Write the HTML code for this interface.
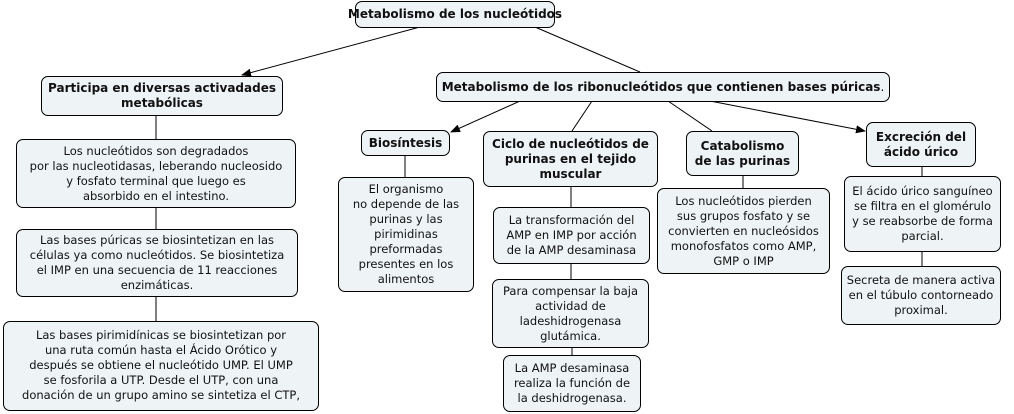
<!DOCTYPE html><html><head><meta charset="utf-8"><style>
body{margin:0;width:1014px;height:414px;background:#fff;position:relative;overflow:hidden;font-family:"DejaVu Sans","Liberation Sans",sans-serif;}
.b{position:absolute;box-sizing:border-box;border:1px solid #000;border-radius:7px;background:#eef3f5;font-size:11.5px;line-height:15px;text-align:center;display:flex;align-items:center;justify-content:center;color:#111;white-space:nowrap}
.h{font-weight:bold;font-size:12px}
svg{position:absolute;left:0;top:0}
</style></head><body>
<svg width="1014" height="414"><defs><marker id="a" markerWidth="10" markerHeight="8" refX="9" refY="4" orient="auto" markerUnits="userSpaceOnUse"><path d="M0,0L10,4L0,8z" fill="#000"/></marker></defs>
<g stroke="#000" stroke-width="1" fill="none">
<line x1="420" y1="27" x2="242" y2="75" marker-end="url(#a)"/>
<line x1="535" y1="27" x2="640" y2="72"/>
<line x1="520" y1="101" x2="451" y2="132" marker-end="url(#a)"/>
<line x1="592" y1="101" x2="572" y2="131"/>
<line x1="668" y1="101" x2="712" y2="131"/>
<line x1="710" y1="101" x2="865" y2="131" marker-end="url(#a)"/>
<line x1="156" y1="115" x2="156" y2="139"/>
<line x1="156" y1="207" x2="156" y2="229"/>
<line x1="156" y1="296" x2="156" y2="321"/>
<line x1="405" y1="155" x2="405" y2="177"/>
<line x1="571" y1="186" x2="571" y2="207"/>
<line x1="571" y1="263" x2="571" y2="279"/>
<line x1="572" y1="347" x2="572" y2="355"/>
<line x1="743" y1="175" x2="743" y2="188"/>
<line x1="922" y1="166" x2="922" y2="176"/>
<line x1="922" y1="251" x2="922" y2="266"/>
</g></svg>
<div class="b h" style="left:355px;top:1px;width:200px;height:27px">Metabolismo de los nucleótidos</div>
<div class="b h" style="left:41px;top:76px;width:242px;height:40px">Participa en diversas activadades<br>metabólicas</div>
<div class="b h" style="left:436px;top:72px;width:454px;height:30px">Metabolismo de los ribonucleótidos que contienen bases púricas<span style="font-weight:normal">.</span></div>
<div class="b h" style="left:361px;top:130px;width:89px;height:26px">Biosíntesis</div>
<div class="b h" style="left:483px;top:131px;width:175px;height:56px">Ciclo de nucleótidos de<br>purinas en el tejido<br>muscular</div>
<div class="b h" style="left:686px;top:131px;width:113px;height:45px">Catabolismo<br>de las purinas</div>
<div class="b h" style="left:866px;top:122px;width:110px;height:45px">Excreción del<br>ácido úrico</div>
<div class="b" style="left:16px;top:139px;width:280px;height:69px">Los nucleótidos son degradados<br>por las nucleotidasas, leberando nucleosido<br>y fosfato terminal que luego es<br>absorbido en el intestino.</div>
<div class="b" style="left:16px;top:229px;width:282px;height:68px">Las bases púricas se biosintetizan en las<br>células ya como nucleótidos. Se biosintetiza<br>el IMP en una secuencia de 11 reacciones<br>enzimáticas.</div>
<div class="b" style="left:3px;top:321px;width:316px;height:90px;align-items:flex-start;padding-top:6px">Las bases pirimidínicas se biosintetizan por<br>una ruta común hasta el Ácido Orótico y<br>después se obtiene el nucleótido UMP. El UMP<br>se fosforila a UTP. Desde el UTP, con una<br>donación de un grupo amino se sintetiza el CTP,</div>
<div class="b" style="left:338px;top:177px;width:136px;height:115px">El organismo<br>no depende de las<br>purinas y las<br>pirimidinas<br>preformadas<br>presentes en los<br>alimentos</div>
<div class="b" style="left:493px;top:207px;width:157px;height:57px">La transformación del<br>AMP en IMP por acción<br>de la AMP desaminasa</div>
<div class="b" style="left:492px;top:279px;width:157px;height:69px">Para compensar la baja<br>actividad de<br>ladeshidrogenasa<br>glutámica.</div>
<div class="b" style="left:503px;top:355px;width:138px;height:57px">La AMP desaminasa<br>realiza la función de<br>la deshidrogenasa.</div>
<div class="b" style="left:657px;top:188px;width:173px;height:86px">Los nucleótidos pierden<br>sus grupos fosfato y se<br>convierten en nucleósidos<br>monofosfatos como AMP,<br>GMP o IMP</div>
<div class="b" style="left:844px;top:176px;width:157px;height:76px">El ácido úrico sanguíneo<br>se filtra en el glomérulo<br>y se reabsorbe de forma<br>parcial.</div>
<div class="b" style="left:841px;top:266px;width:160px;height:59px">Secreta de manera activa<br>en el túbulo contorneado<br>proximal.</div>
</body></html>
